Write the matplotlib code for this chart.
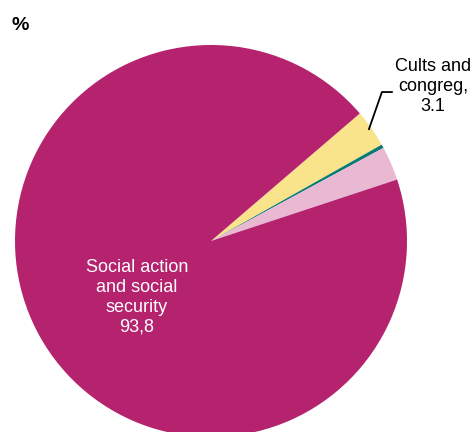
import matplotlib.pyplot as plt

plt.rcParams['font.family'] = ['Liberation Sans', 'DejaVu Sans']

labels = ['Cults and congreg', 'Other', 'Other 2', 'Social action and social security']
values = [3.1, 0.3, 2.8, 93.8]
colors = ['#f9e38b', '#0b7a75', '#e9b9d4', '#b5236e']

fig = plt.figure(figsize=(4.75, 4.32), dpi=100)
ax = fig.add_axes([0, 0, 1, 1])
ax.pie(values, colors=colors, startangle=40.6, counterclock=False,
       radius=1.0, center=(0, 0), wedgeprops=dict(linewidth=0))
ax.set_xlim(-211 / 196, 264 / 196)
ax.set_ylim(-191 / 196, 241 / 196)
ax.set_aspect('equal')
ax.axis('off')

# label for the big slice
big = str(values[3]).replace('.', ',')
ax.text(-0.378, -0.288, 'Social action\nand social\nsecurity\n' + big,
        ha='center', va='center', color='white', fontsize=13, linespacing=1.22)

# leader line and label for the small yellow slice
ax.plot([0.806, 0.872, 0.923], [0.571, 0.760, 0.760], color='black', lw=1.3)
ax.text(1.133, 0.79, 'Cults and\ncongreg,\n%s' % values[0], ha='center', va='center',
        fontsize=13, linespacing=1.22)

fig.text(0.025, 0.94, '%', fontsize=14, fontweight='bold', ha='left', va='center')

fig.savefig('out.png', dpi=100)
